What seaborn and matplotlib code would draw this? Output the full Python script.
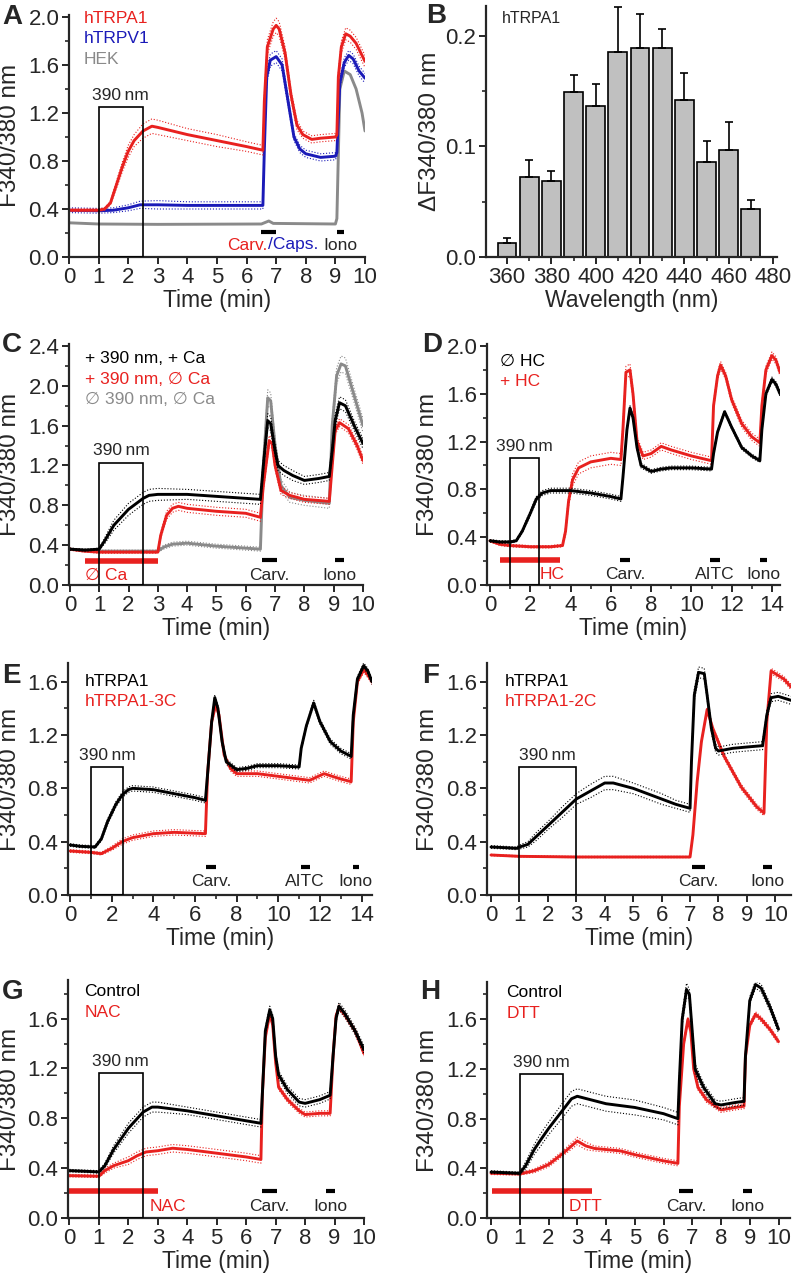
import pandas as pd
import matplotlib
matplotlib.use("Agg")
import matplotlib.pyplot as plt
import seaborn as sns
from matplotlib.patches import Rectangle
from matplotlib.ticker import MultipleLocator, FormatStrFormatter

RED = "#e8211f"
BLUE = "#1b1bb8"
GRAY = "#8a8a8a"
BLACK = "#000000"

# ---- panel A: (time min, F340/380, sem) ----
A_TRPA1 = [(0, 0.39, 0.01), (0.5, 0.39, 0.01), (1.0, 0.39, 0.01), (1.2, 0.40, 0.01), (1.4, 0.45, 0.015),
           (1.6, 0.60, 0.03), (1.8, 0.75, 0.04), (2.0, 0.88, 0.05), (2.2, 0.97, 0.05), (2.5, 1.05, 0.06),
           (2.8, 1.09, 0.06), (3.0, 1.08, 0.06), (4.0, 1.02, 0.05), (5.0, 0.97, 0.05), (6.0, 0.92, 0.04),
           (6.55, 0.89, 0.04), (6.6, 1.30, 0.05), (6.7, 1.75, 0.06), (6.9, 1.90, 0.06), (7.0, 1.93, 0.06),
           (7.1, 1.90, 0.06), (7.3, 1.70, 0.05), (7.5, 1.35, 0.04), (7.7, 1.10, 0.04), (7.9, 1.02, 0.03),
           (8.2, 0.98, 0.03), (8.5, 0.99, 0.03), (9.0, 1.00, 0.03), (9.05, 1.02, 0.03), (9.1, 1.50, 0.04),
           (9.2, 1.75, 0.05), (9.35, 1.86, 0.05), (9.5, 1.84, 0.05), (9.7, 1.78, 0.05), (9.9, 1.68, 0.05),
           (10.0, 1.63, 0.05)]
A_TRPV1 = [(0, 0.39, 0.02), (1.0, 0.385, 0.02), (1.5, 0.39, 0.02), (2.0, 0.41, 0.025), (2.4, 0.435, 0.03),
           (3.0, 0.435, 0.035), (4.0, 0.43, 0.03), (5.0, 0.43, 0.03), (6.0, 0.43, 0.03), (6.55, 0.43, 0.03),
           (6.6, 0.90, 0.04), (6.68, 1.50, 0.05), (6.8, 1.64, 0.05), (7.0, 1.67, 0.05), (7.2, 1.60, 0.05),
           (7.4, 1.30, 0.04), (7.6, 1.00, 0.03), (7.8, 0.90, 0.03), (8.0, 0.86, 0.03), (8.5, 0.83, 0.03),
           (9.0, 0.84, 0.03), (9.05, 0.87, 0.03), (9.15, 1.45, 0.04), (9.3, 1.62, 0.04), (9.45, 1.68, 0.04),
           (9.6, 1.65, 0.04), (9.8, 1.55, 0.04), (10.0, 1.49, 0.04)]
A_HEK = [(0, 0.285, 0), (1, 0.275, 0), (3, 0.272, 0), (6.5, 0.275, 0), (6.75, 0.30, 0), (6.9, 0.28, 0),
         (9.0, 0.275, 0), (9.05, 0.32, 0), (9.15, 1.40, 0), (9.3, 1.55, 0), (9.5, 1.52, 0), (9.7, 1.40, 0),
         (9.9, 1.20, 0), (10.0, 1.05, 0)]

# ---- panel B: wavelength scan ----
B_WAVELENGTH = [360, 370, 380, 390, 400, 410, 420, 430, 440, 450, 460, 470]
B_DELTA = [0.013, 0.0726, 0.069, 0.1495, 0.137, 0.1854, 0.1894, 0.1888, 0.142, 0.086, 0.097, 0.043]
B_SEM = [0.0046, 0.0154, 0.0085, 0.0155, 0.0195, 0.0406, 0.0304, 0.0172, 0.0246, 0.019, 0.025, 0.009]

# ---- panel C ----
C_CA = [(0, 0.36, 0.01), (0.5, 0.35, 0.01), (1.0, 0.36, 0.01), (1.2, 0.45, 0.03), (1.5, 0.60, 0.05),
        (2.0, 0.76, 0.06), (2.5, 0.87, 0.06), (2.7, 0.90, 0.06), (3.0, 0.91, 0.06), (4.0, 0.91, 0.05),
        (5.0, 0.89, 0.05), (6.0, 0.87, 0.05), (6.5, 0.86, 0.05), (6.6, 1.20, 0.06), (6.75, 1.65, 0.07),
        (6.85, 1.62, 0.07), (7.0, 1.35, 0.06), (7.1, 1.20, 0.05), (7.3, 1.15, 0.05), (7.6, 1.10, 0.05),
        (8.0, 1.05, 0.04), (8.5, 1.07, 0.04), (8.85, 1.09, 0.04), (8.95, 1.35, 0.05), (9.05, 1.65, 0.06),
        (9.2, 1.83, 0.06), (9.4, 1.80, 0.06), (9.7, 1.60, 0.05), (10.0, 1.42, 0.05)]
C_NOCA = [(0, 0.36, 0.01), (0.5, 0.34, 0.01), (1.0, 0.33, 0.01), (2.0, 0.33, 0.01), (3.0, 0.33, 0.01),
          (3.1, 0.50, 0.03), (3.3, 0.70, 0.04), (3.5, 0.77, 0.04), (3.7, 0.79, 0.04), (4.0, 0.77, 0.04),
          (5.0, 0.74, 0.04), (6.0, 0.72, 0.04), (6.5, 0.68, 0.04), (6.6, 1.00, 0.05), (6.8, 1.45, 0.05),
          (6.9, 1.42, 0.05), (7.0, 1.20, 0.04), (7.2, 0.95, 0.04), (7.5, 0.90, 0.03), (8.0, 0.86, 0.03),
          (8.85, 0.84, 0.03), (8.95, 1.20, 0.04), (9.05, 1.55, 0.04), (9.2, 1.63, 0.04), (9.5, 1.57, 0.04),
          (9.8, 1.40, 0.04), (10.0, 1.25, 0.04)]
C_DARK = [(0, 0.36, 0.01), (1.0, 0.34, 0.01), (3.0, 0.34, 0.01), (3.2, 0.38, 0.02), (3.5, 0.41, 0.02),
          (4.0, 0.42, 0.02), (5.0, 0.39, 0.02), (6.0, 0.37, 0.02), (6.5, 0.36, 0.02), (6.6, 1.20, 0.08),
          (6.75, 1.88, 0.08), (6.85, 1.85, 0.08), (7.0, 1.40, 0.07), (7.2, 1.00, 0.06), (7.5, 0.88, 0.05),
          (8.0, 0.85, 0.05), (8.85, 0.82, 0.05), (8.95, 1.60, 0.07), (9.1, 2.10, 0.08), (9.25, 2.22, 0.08),
          (9.4, 2.20, 0.08), (9.7, 1.90, 0.07), (10.0, 1.60, 0.07)]

# ---- panel D ----
D_NOHC = [(0, 0.37, 0.01), (0.5, 0.36, 0.01), (1.0, 0.36, 0.01), (1.3, 0.37, 0.01), (1.6, 0.45, 0.015),
          (2.0, 0.60, 0.02), (2.3, 0.72, 0.02), (2.6, 0.77, 0.02), (3.0, 0.79, 0.02), (4.0, 0.79, 0.02),
          (5.0, 0.77, 0.02), (6.0, 0.74, 0.02), (6.5, 0.72, 0.02), (6.6, 0.90, 0.02), (6.8, 1.30, 0.02),
          (6.95, 1.48, 0.02), (7.1, 1.40, 0.02), (7.3, 1.15, 0.02), (7.5, 1.00, 0.02), (8.0, 0.95, 0.015),
          (8.5, 0.97, 0.015), (9.0, 0.98, 0.015), (10.0, 0.98, 0.015), (11.0, 0.97, 0.015), (11.1, 1.10, 0.015),
          (11.3, 1.28, 0.015), (11.65, 1.45, 0.015), (12.0, 1.32, 0.015), (12.5, 1.15, 0.015), (13.0, 1.08, 0.015),
          (13.4, 1.04, 0.015), (13.5, 1.30, 0.02), (13.7, 1.60, 0.02), (14.0, 1.72, 0.02), (14.2, 1.68, 0.02),
          (14.4, 1.60, 0.02)]
D_HC = [(0, 0.37, 0.01), (0.5, 0.34, 0.01), (1.0, 0.33, 0.01), (2.0, 0.32, 0.01), (3.0, 0.32, 0.01),
        (3.6, 0.33, 0.01), (3.75, 0.45, 0.03), (3.9, 0.70, 0.04), (4.1, 0.88, 0.05), (4.4, 0.98, 0.05),
        (5.0, 1.03, 0.05), (6.0, 1.06, 0.05), (6.5, 1.05, 0.05), (6.6, 1.30, 0.05), (6.75, 1.78, 0.05),
        (6.95, 1.80, 0.05), (7.1, 1.60, 0.04), (7.3, 1.20, 0.04), (7.6, 1.08, 0.03), (8.0, 1.10, 0.03),
        (8.5, 1.16, 0.03), (9.0, 1.13, 0.03), (10.0, 1.08, 0.03), (11.0, 1.04, 0.03), (11.1, 1.50, 0.03),
        (11.3, 1.75, 0.03), (11.45, 1.84, 0.03), (11.7, 1.75, 0.03), (12.0, 1.55, 0.03), (12.5, 1.35, 0.03),
        (13.0, 1.24, 0.03), (13.4, 1.19, 0.03), (13.5, 1.50, 0.03), (13.7, 1.80, 0.03), (14.0, 1.92, 0.03),
        (14.2, 1.88, 0.03), (14.4, 1.78, 0.03)]

# ---- panel E ----
E_WT = [(0, 0.375, 0.01), (0.5, 0.365, 0.01), (1.2, 0.36, 0.01), (1.5, 0.42, 0.015), (1.8, 0.55, 0.02),
        (2.2, 0.68, 0.02), (2.5, 0.75, 0.02), (2.8, 0.79, 0.02), (3.0, 0.80, 0.02), (4.0, 0.79, 0.02),
        (5.0, 0.76, 0.02), (6.0, 0.73, 0.02), (6.5, 0.71, 0.02), (6.6, 0.90, 0.02), (6.8, 1.30, 0.02),
        (6.95, 1.48, 0.02), (7.1, 1.40, 0.02), (7.3, 1.15, 0.02), (7.5, 1.00, 0.02), (8.0, 0.94, 0.015),
        (8.5, 0.95, 0.015), (9.0, 0.97, 0.015), (10.0, 0.97, 0.015), (11.0, 0.96, 0.015), (11.1, 1.10, 0.015),
        (11.35, 1.27, 0.015), (11.7, 1.44, 0.02), (12.0, 1.30, 0.02), (12.5, 1.15, 0.02), (13.0, 1.08, 0.02),
        (13.5, 1.04, 0.02), (13.6, 1.35, 0.02), (13.8, 1.62, 0.02), (14.1, 1.72, 0.02), (14.3, 1.68, 0.02),
        (14.5, 1.60, 0.02)]
E_3C = [(0, 0.33, 0.01), (1.0, 0.32, 0.01), (1.5, 0.31, 0.01), (2.0, 0.35, 0.015), (2.5, 0.40, 0.02),
        (3.0, 0.43, 0.02), (4.0, 0.46, 0.02), (5.0, 0.47, 0.02), (6.5, 0.46, 0.02), (6.6, 0.90, 0.02),
        (6.8, 1.30, 0.02), (7.0, 1.43, 0.02), (7.15, 1.35, 0.02), (7.4, 1.05, 0.02), (7.7, 0.95, 0.02),
        (8.0, 0.91, 0.02), (9.0, 0.91, 0.02), (10.0, 0.89, 0.02), (11.0, 0.87, 0.02), (11.5, 0.86, 0.02),
        (12.2, 0.91, 0.02), (12.6, 0.89, 0.02), (13.0, 0.87, 0.02), (13.5, 0.85, 0.02), (13.6, 1.30, 0.02),
        (13.8, 1.60, 0.02), (14.1, 1.69, 0.02), (14.3, 1.65, 0.02), (14.5, 1.60, 0.02)]

# ---- panel F ----
F_WT = [(0, 0.36, 0.01), (0.5, 0.355, 0.01), (0.9, 0.35, 0.01), (1.0, 0.36, 0.015), (1.3, 0.38, 0.02),
        (1.6, 0.44, 0.03), (2.0, 0.52, 0.03), (2.5, 0.62, 0.04), (3.0, 0.72, 0.04), (3.5, 0.78, 0.05),
        (4.0, 0.84, 0.05), (4.3, 0.84, 0.05), (5.0, 0.80, 0.04), (5.5, 0.76, 0.04), (6.0, 0.72, 0.04),
        (6.5, 0.68, 0.03), (7.0, 0.65, 0.03), (7.05, 1.00, 0.03), (7.15, 1.50, 0.04), (7.3, 1.67, 0.04),
        (7.5, 1.66, 0.04), (7.6, 1.50, 0.03), (7.75, 1.25, 0.03), (7.9, 1.10, 0.03), (8.0, 1.08, 0.03),
        (8.5, 1.10, 0.03), (9.0, 1.11, 0.03), (9.55, 1.12, 0.03), (9.7, 1.35, 0.03), (9.85, 1.48, 0.03),
        (10.1, 1.49, 0.03), (10.55, 1.46, 0.03)]
F_2C = [(0, 0.30, 0.005), (1.0, 0.29, 0.005), (3.0, 0.285, 0.005), (5.0, 0.285, 0.005), (7.0, 0.285, 0.005),
        (7.1, 0.45, 0.01), (7.25, 0.85, 0.01), (7.4, 1.15, 0.01), (7.6, 1.39, 0.01), (7.8, 1.25, 0.015),
        (8.2, 1.04, 0.02), (8.8, 0.81, 0.02), (9.35, 0.66, 0.02), (9.6, 0.615, 0.02), (9.7, 1.30, 0.02),
        (9.85, 1.68, 0.02), (10.0, 1.66, 0.02), (10.3, 1.62, 0.02), (10.55, 1.56, 0.02)]

# ---- panel G ----
G_CTRL = [(0, 0.38, 0.01), (1.0, 0.37, 0.01), (1.2, 0.42, 0.02), (1.5, 0.55, 0.03), (2.0, 0.72, 0.04),
          (2.5, 0.85, 0.04), (2.8, 0.89, 0.04), (3.0, 0.89, 0.04), (4.0, 0.86, 0.03), (5.0, 0.82, 0.03),
          (6.0, 0.78, 0.03), (6.5, 0.76, 0.03), (6.55, 1.00, 0.03), (6.65, 1.50, 0.03), (6.8, 1.67, 0.03),
          (6.9, 1.60, 0.03), (7.0, 1.30, 0.03), (7.1, 1.15, 0.03), (7.4, 1.03, 0.03), (7.8, 0.93, 0.03),
          (8.0, 0.92, 0.03), (8.5, 0.95, 0.03), (8.85, 0.985, 0.03), (8.95, 1.30, 0.03), (9.05, 1.60, 0.03),
          (9.15, 1.70, 0.03), (9.35, 1.64, 0.03), (9.7, 1.50, 0.03), (10.0, 1.35, 0.03)]
G_NAC = [(0, 0.34, 0.01), (1.0, 0.335, 0.01), (1.2, 0.38, 0.02), (1.5, 0.42, 0.02), (2.0, 0.46, 0.03),
         (2.3, 0.50, 0.03), (2.6, 0.53, 0.03), (3.0, 0.54, 0.03), (3.5, 0.56, 0.03), (4.0, 0.55, 0.03),
         (5.0, 0.52, 0.03), (6.0, 0.49, 0.03), (6.5, 0.47, 0.03), (6.55, 1.00, 0.02), (6.65, 1.45, 0.02),
         (6.8, 1.64, 0.02), (6.9, 1.55, 0.02), (7.0, 1.25, 0.02), (7.1, 1.05, 0.02), (7.4, 0.95, 0.02),
         (7.8, 0.86, 0.02), (8.0, 0.83, 0.02), (8.5, 0.84, 0.02), (8.85, 0.84, 0.02), (8.95, 1.30, 0.02),
         (9.05, 1.62, 0.02), (9.15, 1.69, 0.02), (9.35, 1.63, 0.02), (9.7, 1.50, 0.02), (10.0, 1.32, 0.02)]

# ---- panel H ----
H_CTRL = [(0, 0.37, 0.01), (1.0, 0.36, 0.01), (1.2, 0.42, 0.03), (1.5, 0.55, 0.04), (1.7, 0.62, 0.05),
          (2.0, 0.72, 0.05), (2.5, 0.87, 0.06), (2.8, 0.96, 0.06), (3.0, 0.98, 0.06), (3.5, 0.95, 0.06),
          (4.0, 0.92, 0.06), (5.0, 0.89, 0.06), (6.0, 0.84, 0.05), (6.5, 0.80, 0.05), (6.55, 1.10, 0.05),
          (6.65, 1.60, 0.05), (6.8, 1.84, 0.05), (6.9, 1.80, 0.04), (7.0, 1.50, 0.04), (7.1, 1.20, 0.04),
          (7.4, 1.05, 0.03), (7.8, 0.92, 0.03), (8.0, 0.91, 0.03), (8.5, 0.93, 0.03), (8.8, 0.94, 0.03),
          (8.85, 1.30, 0.03), (9.0, 1.75, 0.03), (9.2, 1.88, 0.03), (9.4, 1.85, 0.03), (9.7, 1.70, 0.03),
          (10.0, 1.52, 0.03)]
H_DTT = [(0, 0.36, 0.01), (1.0, 0.355, 0.01), (1.5, 0.38, 0.015), (2.0, 0.43, 0.02), (2.5, 0.52, 0.02),
         (3.0, 0.62, 0.03), (3.3, 0.58, 0.03), (3.6, 0.56, 0.02), (4.5, 0.54, 0.02), (5.0, 0.51, 0.02),
         (6.0, 0.46, 0.02), (6.5, 0.44, 0.02), (6.55, 0.90, 0.02), (6.7, 1.40, 0.02), (6.85, 1.60, 0.02),
         (6.95, 1.50, 0.02), (7.05, 1.20, 0.02), (7.2, 1.05, 0.02), (7.5, 0.95, 0.02), (8.0, 0.87, 0.02),
         (8.5, 0.89, 0.02), (8.8, 0.90, 0.02), (8.85, 1.30, 0.02), (9.0, 1.55, 0.02), (9.2, 1.64, 0.02),
         (9.4, 1.60, 0.02), (9.7, 1.52, 0.02), (10.0, 1.42, 0.02)]

# application periods (start, end, label)
A_STIM = [(6.5, 7.0, ""), (9.05, 9.3, "Iono")]
C_STIM = [(6.55, 7.05, "Carv."), (9.05, 9.35, "Iono")]
D_STIM = [(6.45, 6.95, "Carv."), (10.9, 11.4, "AITC"), (13.4, 13.75, "Iono")]
E_STIM = [(6.55, 7.03, "Carv."), (11.07, 11.5, "AITC"), (13.57, 13.86, "Iono")]
F_STIM = [(7.07, 7.54, "Carv."), (9.56, 9.88, "Iono")]
G_STIM = [(6.53, 7.04, "Carv."), (8.7, 9.0, "Iono")]
H_STIM = [(6.54, 7.03, "Carv."), (8.78, 9.09, "Iono")]

sns.set_style("ticks")
plt.rcParams["font.family"] = ["Liberation Sans", "DejaVu Sans"]
plt.rcParams["axes.linewidth"] = 1.6

W, H = 794, 1280
fig = plt.figure(figsize=(W / 100, H / 100), dpi=100)

TICK_FS = 16
LAB_FS = 16.5
TXT_FS = 12.5


def add_ax(left, right, top, bottom):
    return fig.add_axes([left / W, 1 - bottom / H, (right - left) / W, (bottom - top) / H])


def style(ax, xlim, ylim, xmaj, xmin, ymaj, ymin, ylab_px, yfmt="%.1f", xlabel="Time (min)",
          ylabel="F340/380 nm"):
    ax.set_xlim(*xlim)
    ax.set_ylim(*ylim)
    ax.xaxis.set_major_locator(MultipleLocator(xmaj))
    if xmin:
        ax.xaxis.set_minor_locator(MultipleLocator(xmin))
    ax.yaxis.set_major_locator(MultipleLocator(ymaj))
    ax.yaxis.set_minor_locator(MultipleLocator(ymin))
    ax.yaxis.set_major_formatter(FormatStrFormatter(yfmt))
    ax.tick_params(which="major", direction="out", length=5, width=1.4, labelsize=TICK_FS, pad=2)
    ax.tick_params(which="minor", direction="out", length=3, width=1.2)
    for s in ["top", "right"]:
        ax.spines[s].set_visible(False)
    ax.set_xlabel(xlabel, fontsize=LAB_FS, labelpad=1)
    ax.set_ylabel(ylabel, fontsize=LAB_FS + 1)
    pos = ax.get_position()
    ax.yaxis.set_label_coords((ylab_px / W - pos.x0) / pos.width, 0.5)


def trace(ax, pts, color, lw=2.1):
    df = pd.DataFrame(pts, columns=["t", "y", "sem"])
    sns.lineplot(data=df, x="t", y="y", color=color, lw=lw, estimator=None, ax=ax, legend=False)
    if df["sem"].max() > 0:
        for sign in (1, -1):
            sns.lineplot(x=df["t"], y=df["y"] + sign * df["sem"], color=color, lw=0.8, ls=":",
                         estimator=None, ax=ax, legend=False)


def box390(ax, x0, x1, top):
    ax.add_patch(Rectangle((x0, 0), x1 - x0, top, fill=False, ec="black", lw=1.2, zorder=5))
    ax.annotate("390\u2009nm", xy=((x0 + x1) / 2, top), xytext=(0, 3), textcoords="offset points",
                ha="center", va="bottom", fontsize=TXT_FS)


def stims(ax, items, ybar, ytxt):
    for s, e, lab in items:
        ax.plot([s, e], [ybar, ybar], color="black", lw=3, solid_capstyle="butt")
        if lab:
            ax.text((s + e) / 2, ytxt, lab, ha="center", va="center", fontsize=TXT_FS)


def legend_text(ax, x, ys, labels, colors, fs=TXT_FS):
    for y, lab, c in zip(ys, labels, colors):
        ax.text(x, y, lab, color=c, fontsize=fs, va="center", ha="left")


LEFT_YLAB = 21
RIGHT_YLAB = 439

# ---------------- A ----------------
axA = add_ax(69, 365, 14.6, 257)
trace(axA, A_HEK, GRAY)
trace(axA, A_TRPV1, BLUE)
trace(axA, A_TRPA1, RED)
box390(axA, 1.0, 2.5, 1.25)
stims(axA, A_STIM, 0.21, 0.1)
axA.text(6.72, 0.1, "Carv.", color=RED, ha="right", va="center", fontsize=TXT_FS)
axA.text(6.72, 0.1, "/Caps.", color=BLUE, ha="left", va="center", fontsize=TXT_FS)
legend_text(axA, 0.5, [1.99, 1.82, 1.65], ["hTRPA1", "hTRPV1", "HEK"], [RED, BLUE, GRAY])
style(axA, (0, 10), (0, 2.02), 1, None, 0.4, 0.2, LEFT_YLAB)

# ---------------- B ----------------
axB = add_ax(486, 777, 6, 257)
sns.barplot(x=B_WAVELENGTH, y=B_DELTA, native_scale=True, width=0.85, color="#c0c0c0",
            edgecolor="black", linewidth=1.2, saturation=1, errorbar=None, ax=axB)
axB.errorbar(B_WAVELENGTH, B_DELTA, yerr=[[0] * len(B_SEM), B_SEM], fmt="none", ecolor="black",
             elinewidth=1.2, capsize=3, capthick=1.2)
axB.text(357.5, 0.216, "hTRPA1", fontsize=11.5, va="center")
style(axB, (350.5, 481.8), (0, 0.227), 20, 10, 0.1, 0.05, 441, xlabel="Wavelength (nm)",
      ylabel="\u0394F340/380 nm")

# ---------------- C ----------------
axC = add_ax(69, 363, 344, 585)
trace(axC, C_DARK, GRAY)
trace(axC, C_NOCA, RED)
trace(axC, C_CA, BLACK)
box390(axC, 1.0, 2.5, 1.23)
axC.plot([0.5, 3.0], [0.245, 0.245], color=RED, lw=4, solid_capstyle="butt")
axC.text(0.5, 0.1, "\u2205 Ca", color=RED, fontsize=TXT_FS, va="center")
stims(axC, C_STIM, 0.25, 0.1)
legend_text(axC, 0.5, [2.27, 2.06, 1.86],
            ["+ 390 nm, + Ca", "+ 390 nm, \u2205 Ca", "\u2205 390 nm, \u2205 Ca"], [BLACK, RED, GRAY])
style(axC, (-0.03, 10), (0, 2.42), 1, None, 0.4, 0.2, LEFT_YLAB)

# ---------------- D ----------------
axD = add_ax(487, 780, 343.6, 585)
trace(axD, D_HC, RED)
trace(axD, D_NOHC, BLACK)
box390(axD, 1.0, 2.45, 1.06)
axD.plot([0.5, 3.47], [0.21, 0.21], color=RED, lw=4, solid_capstyle="butt")
axD.text(3.1, 0.085, "HC", color=RED, fontsize=TXT_FS, ha="center", va="center")
stims(axD, D_STIM, 0.21, 0.085)
legend_text(axD, 0.5, [1.87, 1.70], ["\u2205 HC", "+ HC"], [BLACK, RED])
style(axD, (-0.15, 14.4), (0, 2.02), 2, 1, 0.4, 0.2, RIGHT_YLAB)

# ---------------- E ----------------
axE = add_ax(68, 372, 663, 895)
trace(axE, E_3C, RED)
trace(axE, E_WT, BLACK)
box390(axE, 1.0, 2.55, 0.96)
stims(axE, E_STIM, 0.21, 0.1)
legend_text(axE, 0.7, [1.60, 1.45], ["hTRPA1", "hTRPA1-3C"], [BLACK, RED])
style(axE, (-0.1, 14.5), (0, 1.74), 2, 1, 0.4, 0.2, LEFT_YLAB)

# ---------------- F ----------------
axF = add_ax(487, 791, 663, 895)
trace(axF, F_2C, RED)
trace(axF, F_WT, BLACK)
box390(axF, 1.0, 3.0, 0.96)
stims(axF, F_STIM, 0.21, 0.1)
legend_text(axF, 0.5, [1.60, 1.45], ["hTRPA1", "hTRPA1-2C"], [BLACK, RED])
style(axF, (-0.14, 10.55), (0, 1.74), 1, None, 0.4, 0.2, RIGHT_YLAB)

# ---------------- G ----------------
axG = add_ax(68, 364, 980, 1218)
trace(axG, G_NAC, RED)
trace(axG, G_CTRL, BLACK)
box390(axG, 1.0, 2.48, 1.16)
axG.plot([0.0, 3.0], [0.217, 0.217], color=RED, lw=4, solid_capstyle="butt")
axG.text(3.35, 0.09, "NAC", color=RED, fontsize=TXT_FS, ha="center", va="center")
stims(axG, G_STIM, 0.217, 0.09)
legend_text(axG, 0.5, [1.815, 1.65], ["Control", "NAC"], [BLACK, RED])
style(axG, (-0.05, 10), (0, 1.91), 1, None, 0.4, 0.2, LEFT_YLAB)

# ---------------- H ----------------
axH = add_ax(487, 790, 982, 1218)
trace(axH, H_DTT, RED)
trace(axH, H_CTRL, BLACK)
box390(axH, 1.0, 2.5, 1.16)
axH.plot([0.03, 3.5], [0.217, 0.217], color=RED, lw=4, solid_capstyle="butt")
axH.text(3.3, 0.09, "DTT", color=RED, fontsize=TXT_FS, ha="center", va="center")
stims(axH, H_STIM, 0.217, 0.09)
legend_text(axH, 0.53, [1.815, 1.65], ["Control", "DTT"], [BLACK, RED])
style(axH, (-0.14, 10.4), (0, 1.90), 1, None, 0.4, 0.2, RIGHT_YLAB)

# panel letters
for lab, px, py in [("A", 12, 16.5), ("B", 436, 16), ("C", 12, 345), ("D", 432, 345),
                    ("E", 11, 676), ("F", 431, 676), ("G", 13, 992), ("H", 430, 992)]:
    fig.text(px / W, 1 - py / H, lab, fontsize=20, fontweight="bold", ha="center", va="center")

fig.savefig("out.png", dpi=100)
